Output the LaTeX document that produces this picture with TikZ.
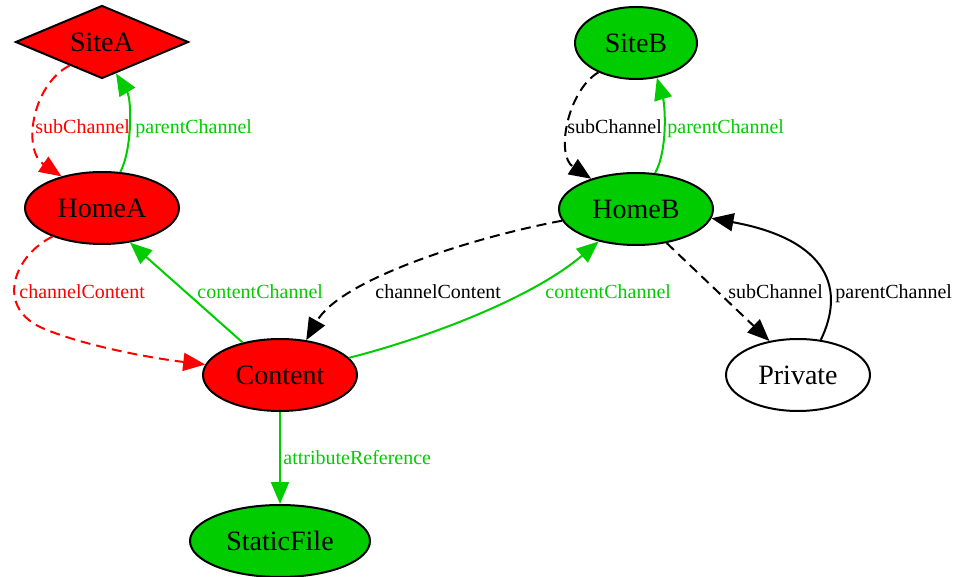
\documentclass[tikz,border=0pt]{standalone}
\usepackage{fontspec}
\setmainfont{Liberation Serif}
\usetikzlibrary{shapes.geometric,arrows.meta}
\definecolor{gvgreen}{RGB}{0,204,0}
\definecolor{gvred}{RGB}{255,0,0}
\begin{document}
\begin{tikzpicture}[x=0.5pt,y=-0.5pt,
 every node/.style={inner sep=0pt},
 ell/.style={ellipse,draw=black,line width=1pt,font=\fontsize{14}{16}\selectfont},
 dia/.style={diamond,aspect=2.4,draw=black,line width=1pt,font=\fontsize{14}{16}\selectfont},
 redn/.style={fill=gvred},
 grnn/.style={fill=gvgreen},
 lbl/.style={anchor=west,font=\fontsize{10}{12}\selectfont,text height=7pt,text depth=0pt},
 conn/.style={line width=1pt,-{Triangle[length=11pt,width=9pt]}},
 dsh/.style={dash pattern=on 5pt off 3pt}]
\useasboundingbox (0,0) rectangle (954,577);

% nodes
\node[dia,redn,minimum width=86.5pt,minimum height=36.5pt] (SiteA) at (102,42) {SiteA};
\node[ell,grnn,minimum width=61pt,minimum height=36pt] (SiteB) at (636,43) {SiteB};
\node[ell,redn,minimum width=77pt,minimum height=36pt] (HomeA) at (102,208) {HomeA};
\node[ell,grnn,minimum width=77pt,minimum height=36pt] (HomeB) at (636,209) {HomeB};
\node[ell,redn,minimum width=77pt,minimum height=36pt] (Content) at (280,375) {Content};
\node[ell,fill=white,minimum width=72pt,minimum height=36pt] (Private) at (798,375) {Private};
\node[ell,grnn,minimum width=90pt,minimum height=36pt] (StaticFile) at (280,541) {StaticFile};

% SiteA -> HomeA subChannel
\draw[conn,dsh,gvred] (SiteA.216) .. controls (32,85) and (22,150) .. (HomeA.142);
\node[lbl,gvred] (l1) at (35,127) {subChannel};
% HomeA -> SiteA parentChannel
\draw[conn,gvgreen] (HomeA.63) .. controls (132,150) and (132,100) .. (SiteA.294);
\node[lbl,gvgreen] (l2) at (135,127) {parentChannel};
% HomeA -> Content channelContent
\draw[conn,dsh,gvred] (HomeA.210) .. controls (15,255) and (-5,305) .. (40,327)
  .. controls (80,345) and (150,358) .. (Content.172.6);
\node[lbl,gvred] (l3) at (19,292) {channelContent};
% Content -> HomeA contentChannel
\draw[conn,gvgreen] (Content.139.6) -- (HomeA.309);
\node[lbl,gvgreen] (l4) at (197,292) {contentChannel};
% HomeB -> Content channelContent
\draw[conn,dsh,black] (HomeB.189) .. controls (470,238) and (340,280) .. (Content.53.7);
\node[lbl,black] (l5) at (375,292) {channelContent};
% Content -> HomeB contentChannel
\draw[conn,gvgreen] (Content.14) .. controls (420,340) and (530,300) .. (HomeB.221.6);
\node[lbl,gvgreen] (l6) at (545,292) {contentChannel};
% SiteB -> HomeB subChannel
\draw[conn,dsh,black] (SiteB.218) .. controls (568,90) and (555,155) .. (HomeB.146);
\node[lbl,black] (l7) at (567,127) {subChannel};
% HomeB -> SiteB parentChannel
\draw[conn,gvgreen] (HomeB.62.8) .. controls (668,150) and (665,105) .. (SiteB.301.4);
\node[lbl,gvgreen] (l8) at (667,127) {parentChannel};
% HomeB -> Private subChannel
\draw[conn,dsh,black] (HomeB.312.4) -- (Private.130.6);
\node[lbl,black] (l9) at (728,292) {subChannel};
% Private -> HomeB parentChannel
\draw[conn,black] (Private.57.8) .. controls (845,290) and (830,240) .. (HomeB.353);
\node[lbl,black] (l10) at (835,292) {parentChannel};
% Content -> StaticFile attributeReference
\draw[conn,gvgreen] (Content.south) -- (StaticFile.north);
\node[lbl,gvgreen] (l11) at (283,458) {attributeReference};
\end{tikzpicture}
\end{document}
